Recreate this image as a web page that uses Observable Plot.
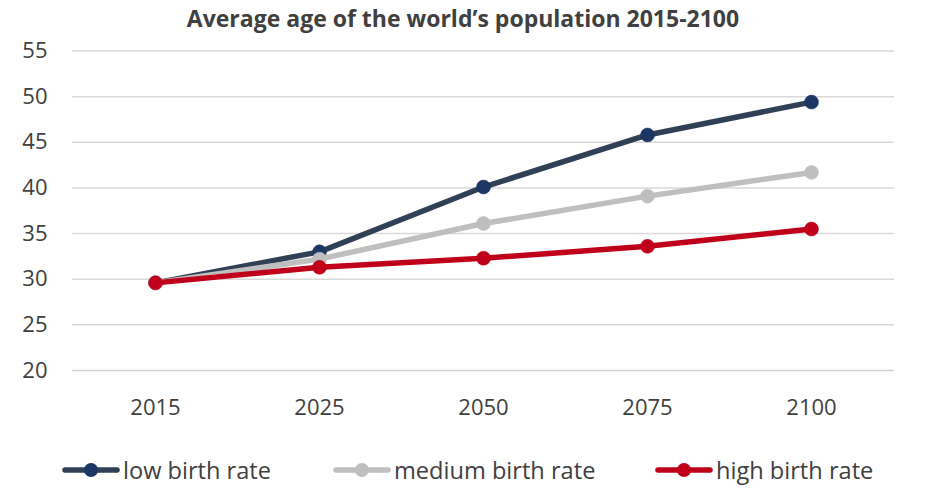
<!DOCTYPE html>
<html>
<head>
<meta charset="utf-8">
<script src="https://cdn.jsdelivr.net/npm/d3@7"></script>
<script src="https://cdn.jsdelivr.net/npm/@observablehq/plot@0.6"></script>
<style>
  html, body { margin: 0; padding: 0; background: #fff; }
  #wrap { position: relative; width: 926px; height: 498px; font-family: "Open Sans", sans-serif; color: #404040; }
  #title { position: absolute; z-index: 2; left: 0; top: 0; width: 926px; height: 36px; line-height: 36px; text-align: center; font-weight: 700; font-size: 23px; color: #404040; }
  #chart { position: absolute; z-index: 1; left: 0; top: 16px; }
  .leg { position: absolute; top: 455px; height: 30px; display: flex; align-items: center; font-size: 23.6px; color: #404040; white-space: nowrap; }
  .leg svg { margin-right: 3px; }
</style>
</head>
<body>
<div id="wrap">
  <div id="title">Average age of the world’s population 2015-2100</div>
  <div id="chart"></div>
  <div id="legend"></div>
</div>
<script>
const years = ["2015", "2025", "2050", "2075", "2100"];
const seriesNames = ["low birth rate", "medium birth rate", "high birth rate"];
const lowRate = [29.6, 33.0, 40.1, 45.8, 49.4];
const mediumRate = [29.6, 32.2, 36.1, 39.1, 41.7];
const highRate = [29.6, 31.3, 32.3, 33.6, 35.5];
const yTicks = [20, 25, 30, 35, 40, 45, 50, 55];

const lineColors = ["#2f4057", "#bfbfbf", "#c0001a"];
const dotColors = ["#1c3764", "#bfbfbf", "#c0001a"];
const allSeries = [lowRate, mediumRate, highRate];

const seriesMarks = allSeries.flatMap((vals, k) => {
  const data = years.map((yr, i) => ({year: yr, value: vals[i]}));
  return [
    Plot.line(data, {x: "year", y: "value", stroke: lineColors[k], strokeWidth: 5.5}),
    Plot.dot(data, {x: "year", y: "value", r: 7, fill: dotColors[k], stroke: dotColors[k], strokeWidth: 0.5})
  ];
});

const plot = Plot.plot({
  width: 926,
  height: 420,
  marginTop: 34.5,
  marginBottom: 66,
  marginLeft: 72,
  marginRight: 32,
  style: {fontFamily: "Open Sans, sans-serif", fontSize: "22px", color: "#404040", background: "transparent"},
  x: {type: "point", domain: years, padding: 0.5, label: null},
  y: {domain: [20, 55], label: null},
  marks: [
    Plot.ruleY(yTicks, {stroke: d => d === 20 ? "#d0d0d0" : "#d9d9d9", strokeWidth: 1.5}),
    Plot.axisX({tickSize: 0, tickPadding: 29, fontSize: 22, fill: "#404040"}),
    Plot.axisY({ticks: yTicks, tickSize: 0, tickPadding: 25, fontSize: 22, fill: "#404040"}),
    ...seriesMarks
  ]
});
document.getElementById("chart").appendChild(plot);

// legend
const legendLefts = [62, 333, 655];
const legend = document.getElementById("legend");
seriesNames.forEach((name, k) => {
  const item = document.createElement("div");
  item.className = "leg";
  item.style.left = legendLefts[k] + "px";
  item.innerHTML = `<svg width="58" height="16"><line x1="3" y1="8" x2="55" y2="8" stroke="${lineColors[k]}" stroke-width="5.5" stroke-linecap="round"/><circle cx="29" cy="8" r="7" fill="${dotColors[k]}"/></svg><span>${name}</span>`;
  legend.appendChild(item);
});
</script>
</body>
</html>
